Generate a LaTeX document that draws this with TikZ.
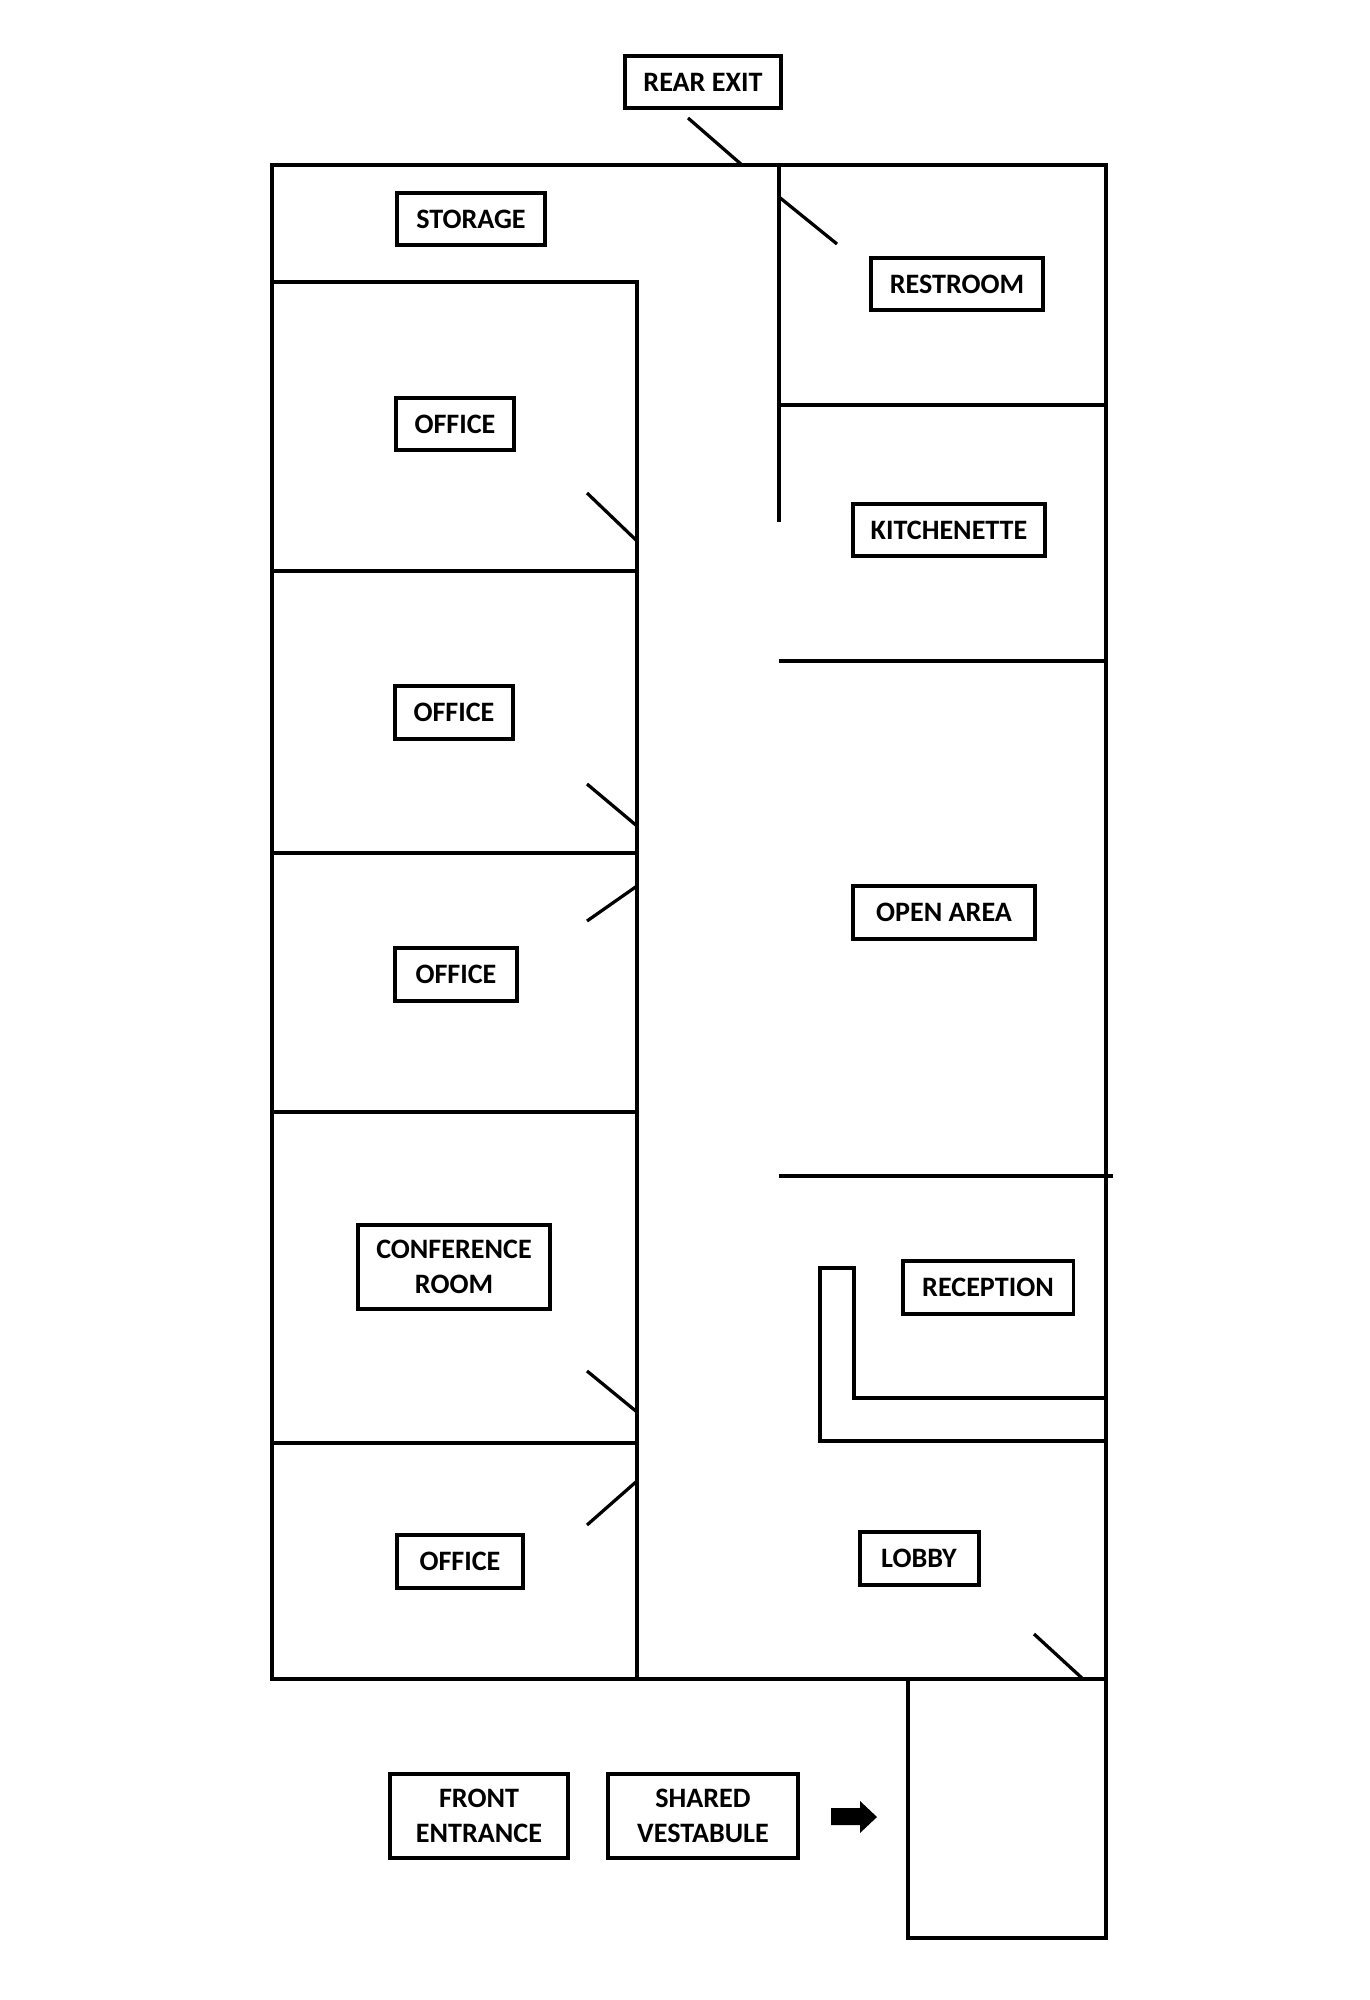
\documentclass[tikz,border=0pt]{standalone}
\usepackage{fontspec}
\setmainfont{Carlito}

\begin{document}
\begin{tikzpicture}[x=0.02cm,y=-0.02cm,
    wall/.style={line width=0.07cm},
    door/.style={line width=0.065cm},
    tag/.style={draw,fill=white,line width=0.08cm,inner xsep=0.3cm,inner ysep=0.1cm,
      minimum height=1.06cm,align=center,font=\bfseries\fontsize{16}{19.6}\selectfont},
    tagtwo/.style={tag,minimum height=1.68cm}]
  \useasboundingbox (0,0) rectangle (1369,2000);
  % outer walls and vestibule
  \draw[wall] (272,165) rectangle (1106,1679);
  \draw[wall] (908,1679) rectangle (1106,1938);
  % left rooms
  \draw[wall] (272,282) -- (637,282) -- (637,1679);
  \foreach \y in {571,853,1112,1443}
    \draw[wall] (272,\y) -- (637,\y);
  % right rooms
  \draw[wall] (779,165) -- (779,522);
  \draw[wall] (779,405) -- (1106,405);
  \draw[wall] (779,661) -- (1106,661);
  \draw[wall] (779,1176) -- (1113,1176);
  \draw[wall] (1106,1441) -- (820,1441) -- (820,1268) -- (854,1268) -- (854,1398) -- (1106,1398);
  % doors
  \draw[door] (688,118) -- (742,165);
  \draw[door] (779,197) -- (837,244);
  \draw[door] (587,493) -- (637,541);
  \draw[door] (587,784) -- (637,826);
  \draw[door] (587,921) -- (637,886);
  \draw[door] (587,1371) -- (637,1412);
  \draw[door] (587,1525) -- (637,1481);
  \draw[door] (1034,1634) -- (1083,1679);
  % arrow into the vestibule
  \fill (831,1808) -- (860,1808) -- (860,1801) -- (877,1817) -- (860,1833)
    -- (860,1825) -- (831,1825) -- cycle;
  % labels
  \node[tag,minimum width=3.12cm] (rear) at (703,82) {REAR EXIT};
  \node[tag,minimum width=2.96cm] (storage) at (471,219) {STORAGE};
  \node[tag,minimum width=3.46cm] (restroom) at (957,284) {RESTROOM};
  \node[tag,minimum width=2.38cm] (office1) at (455,424) {OFFICE};
  \node[tag,minimum width=3.86cm] (kitchen) at (949,530) {KITCHENETTE};
  \node[tag,minimum width=2.36cm] (office2) at (454,712) {OFFICE};
  \node[tag,minimum width=3.66cm] (open) at (944,912) {OPEN AREA};
  \node[tag,minimum width=2.46cm] (office3) at (456,974) {OFFICE};
  \node[tagtwo,minimum width=3.86cm] (conf) at (454,1267) {CONFERENCE\\ROOM};
  \node[tag,minimum width=3.42cm] (recept) at (988,1287) {RECEPTION};
  \node[tag,minimum width=2.54cm] (office4) at (460,1561) {OFFICE};
  \node[tag,minimum width=2.38cm] (lobby) at (919,1558) {LOBBY};
  \node[tagtwo,minimum width=3.58cm] (front) at (479,1816) {FRONT\\ENTRANCE};
  \node[tagtwo,minimum width=3.82cm] (shared) at (703,1816) {SHARED\\VESTABULE};
\end{tikzpicture}
\end{document}
